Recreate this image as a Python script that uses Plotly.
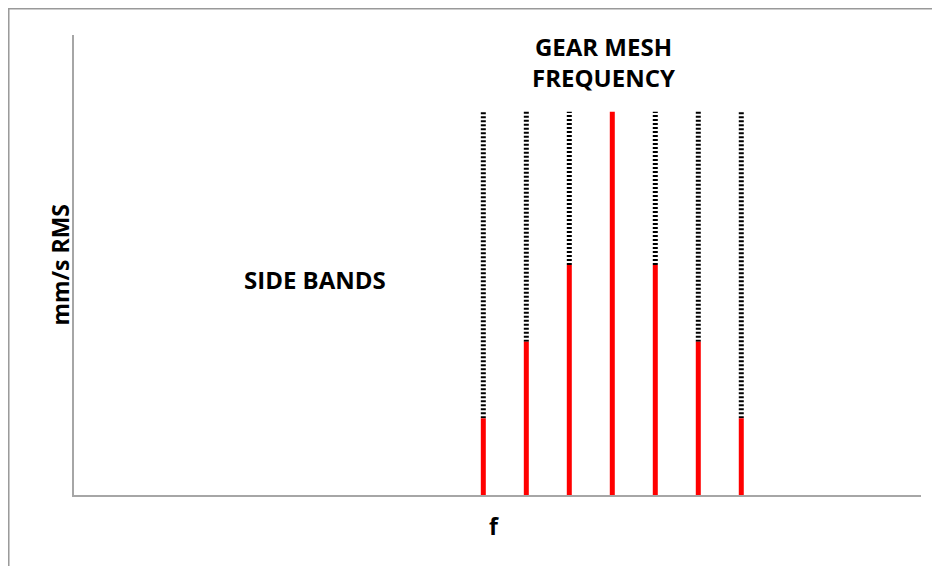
import plotly.graph_objects as go

# Data
freqs = [10, 11, 12, 13, 14, 15, 16]          # frequency positions (arbitrary units)
amplitudes = [1, 2, 3, 5, 3, 2, 1]            # mm/s RMS (red solid part)
envelope = [5, 5, 5, 5, 5, 5, 5]              # dotted envelope top

red_x, red_y, dot_x, dot_y = [], [], [], []
for f, a, e in zip(freqs, amplitudes, envelope):
    red_x += [f, f, None]
    red_y += [0, a, None]
    if e > a:
        dot_x += [f, f, None]
        dot_y += [a, e, None]

fig = go.Figure()
fig.add_trace(go.Scatter(x=dot_x, y=dot_y, mode="lines",
                         line=dict(color="black", width=5, dash="2px,2px"),
                         hoverinfo="skip", showlegend=False))
fig.add_trace(go.Scatter(x=red_x, y=red_y, mode="lines",
                         line=dict(color="#ff0000", width=5),
                         hoverinfo="skip", showlegend=False))

font_family = "Open Sans, Noto Sans, DejaVu Sans, sans-serif"
fig.update_layout(
    width=940, height=566,
    margin=dict(l=66, r=27, t=27, b=79),
    paper_bgcolor="white", plot_bgcolor="white",
    showlegend=False,
    xaxis=dict(range=[0.48, 20.18], showgrid=False, zeroline=False,
               showticklabels=False, ticks="", showline=True,
               linecolor="#a6a6a6", linewidth=1.5),
    yaxis=dict(range=[0, 6], showgrid=False, zeroline=False,
               showticklabels=False, ticks="", showline=True,
               linecolor="#a6a6a6", linewidth=1.5),
    font=dict(family=font_family, color="black"),
)

ann = dict(xref="paper", yref="paper", showarrow=False,
           xanchor="center", yanchor="middle", borderpad=0)
fig.add_annotation(text="<b>GEAR MESH<br>FREQUENCY</b>", x=0.6246, y=0.9410,
                   font=dict(size=24, family=font_family), **ann)
fig.add_annotation(text="<b>SIDE BANDS</b>", x=0.284, y=0.4690,
                   font=dict(size=24, family=font_family), **ann)
fig.add_annotation(text="<b>f</b>", x=0.4959, y=-0.0680,
                   font=dict(size=23, family=font_family), **ann)
fig.add_annotation(text="<b>mm/s RMS</b>", x=-0.0170, y=0.5, textangle=-90,
                   font=dict(size=23, family=font_family), **ann)

# outer chart border
fig.add_shape(type="rect", xref="paper", yref="paper",
              x0=-0.0770, x1=1.0378, y0=-0.18, y1=1.0571,
              line=dict(color="#999999", width=1.5), layer="below")

fig.write_html("out.html")
